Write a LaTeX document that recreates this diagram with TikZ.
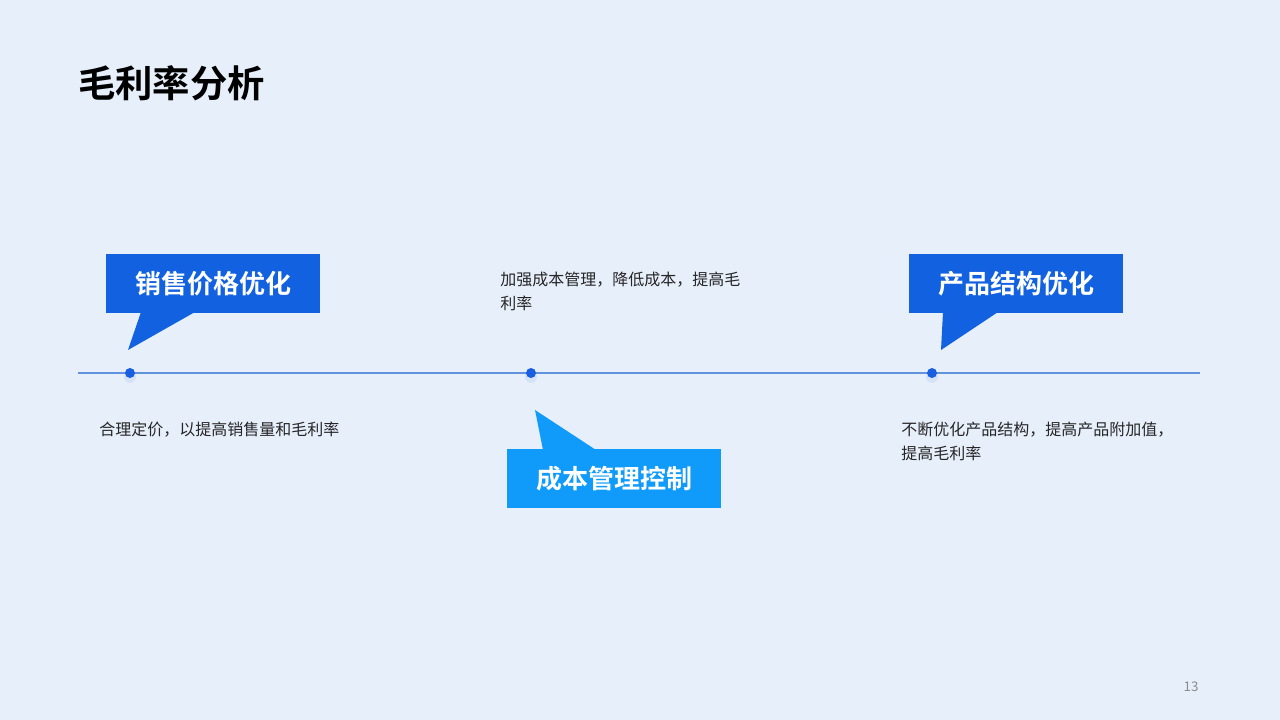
\documentclass[tikz,border=0pt]{standalone}
\usepackage{fontspec}
\setmainfont{Noto Sans CJK SC}
\newfontfamily\cjkbold{Noto Sans CJK SC Bold}
\definecolor{bgc}{RGB}{231,239,251}
\definecolor{linec}{RGB}{96,146,222}
\definecolor{dotc}{RGB}{26,95,224}
\definecolor{boxa}{RGB}{18,97,224}
\definecolor{boxb}{RGB}{16,155,250}
\definecolor{numc}{RGB}{140,140,140}
\begin{document}
\begin{tikzpicture}[x=0.75pt,y=-0.75pt,
  labelbox/.style={rectangle,inner sep=0pt,minimum width=160.5pt,minimum height=44.25pt,text=white,font=\cjkbold\fontsize{19.5}{22}\selectfont},
  bodytext/.style={anchor=west,inner sep=0pt,align=left,text=black!85,font=\fontsize{12}{18}\selectfont},
  tdot/.style={circle,fill=dotc,inner sep=0pt,minimum size=7.5pt}]
\fill[bgc] (0,0) rectangle (1280,720);
\useasboundingbox (0,0) rectangle (1280,720);
% title
\node[anchor=west,inner sep=0pt,font=\cjkbold\fontsize{28}{30}\selectfont] (title) at (78,83) {毛利率分析};
% timeline
\coordinate (lstart) at (78,373);
\coordinate (lend) at (1200,373);
\draw[linec,line width=1pt] (lstart) -- (lend);
% dot shadows
\foreach \px in {130,531,932}{
  \fill[linec,opacity=0.12] (\px,377) circle (6);
}
\node[tdot] (d1) at (130,373) {};
\node[tdot] (d2) at (531,373) {};
\node[tdot] (d3) at (932,373) {};
% box 1
\fill[boxa] (141,312) -- (128,350) -- (195,312) -- cycle;
\node[labelbox,fill=boxa] (b1) at (213,283.5) {销售价格优化};
% box 3
\fill[boxa] (943,312) -- (941,350) -- (998,312) -- cycle;
\node[labelbox,fill=boxa] (b3) at (1016,283.5) {产品结构优化};
% box 2
\fill[boxb] (543,450) -- (535,410) -- (596,450) -- cycle;
\node[labelbox,fill=boxb] (b2) at (614,478.5) {成本管理控制};
% texts
\node[bodytext] (t1) at (99,430) {合理定价，以提高销售量和毛利率};
\node[bodytext,anchor=north west] (t2) at (500,272) {加强成本管理，降低成本，提高毛\\利率};
\node[bodytext,anchor=north west] (t3) at (901,422) {不断优化产品结构，提高产品附加值，\\提高毛利率};
% page number
\node[inner sep=0pt,text=numc,font=\fontsize{10}{12}\selectfont] (pn) at (1191,687) {13};
\end{tikzpicture}
\end{document}
